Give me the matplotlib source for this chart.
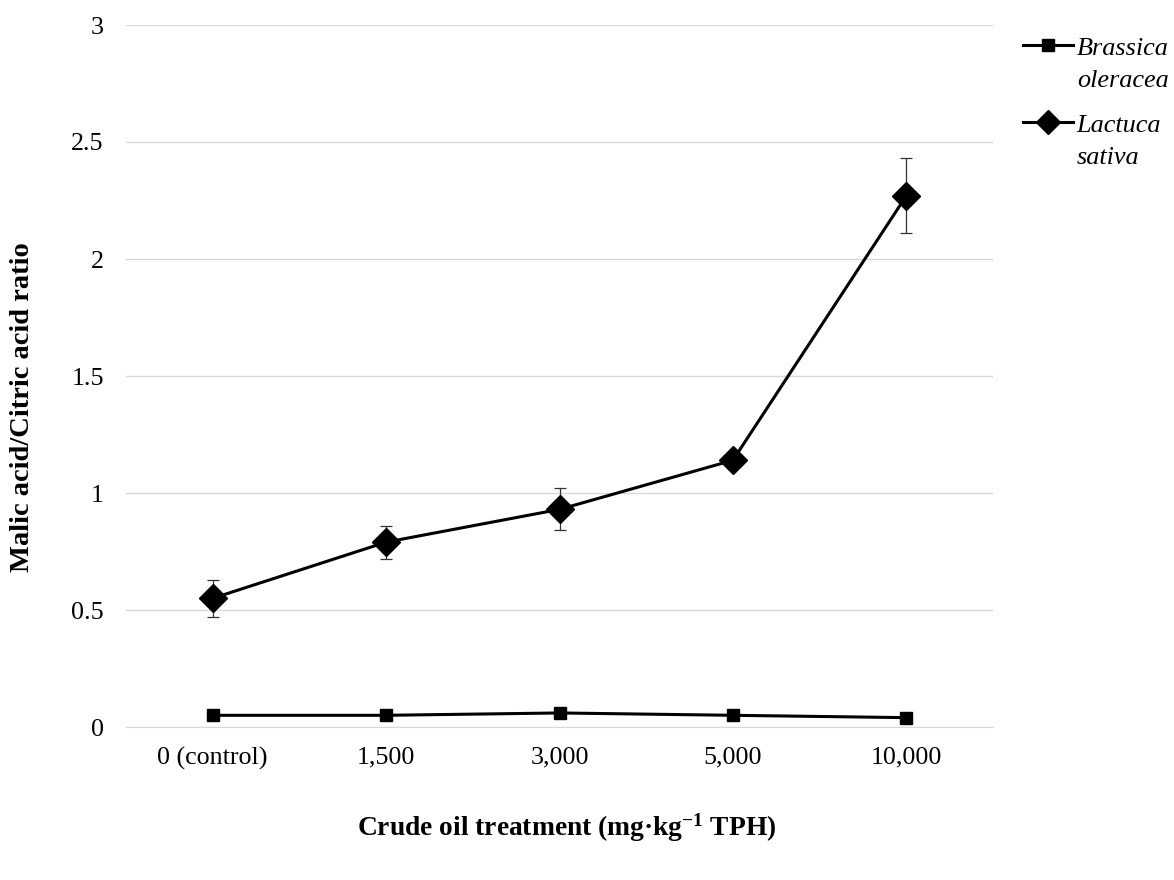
import matplotlib
matplotlib.use("Agg")
import matplotlib.pyplot as plt
from matplotlib.lines import Line2D

categories = ["0 (control)", "1,500", "3,000", "5,000", "10,000"]
brassica = [0.05, 0.05, 0.06, 0.05, 0.04]
lactuca = [0.55, 0.79, 0.93, 1.14, 2.27]
lactuca_err = [0.08, 0.07, 0.09, 0.01, 0.16]
yticks = [0, 0.5, 1, 1.5, 2, 2.5, 3]
ytick_labels = ["0", "0.5", "1", "1.5", "2", "2.5", "3"]

plt.rcParams['font.family'] = ['Liberation Serif', 'DejaVu Serif']
plt.rcParams['mathtext.fontset'] = 'custom'
plt.rcParams['mathtext.rm'] = 'Liberation Serif'
plt.rcParams['mathtext.bf'] = 'Liberation Serif:bold'
plt.rcParams['mathtext.it'] = 'Liberation Serif:italic'

fig = plt.figure(figsize=(11.74, 8.8), dpi=100)
ax = fig.add_axes([126/1174, 1-727/880, (993-126)/1174, (727-25)/880])

x = list(range(len(categories)))
ax.errorbar(x, lactuca, yerr=lactuca_err, fmt='none', ecolor='#333333',
            elinewidth=0.9, capsize=4.3, capthick=0.9, zorder=2)
ax.plot(x, lactuca, color='black', lw=2.2, marker='D', ms=14, zorder=3)
ax.plot(x, brassica, color='black', lw=2.2, marker='s', ms=8.5, zorder=3)

ax.set_xlim(-0.5, len(categories) - 0.5)
ax.set_ylim(0, 3)
ax.set_xticks(x)
ax.set_xticklabels(categories, fontsize=18.7)
ax.set_yticks(yticks)
ax.set_yticklabels(ytick_labels, fontsize=18.7)
ax.tick_params(axis='both', length=0)
ax.tick_params(axis='x', pad=14)
ax.tick_params(axis='y', pad=16)
ax.grid(axis='y', color='#d9d9d9', lw=1)
ax.set_axisbelow(True)
for s in ax.spines.values():
    s.set_visible(False)
ax.spines['bottom'].set_visible(True)
ax.spines['bottom'].set_color('#d9d9d9')

fig.text(23/1174, 1-407/880, "Malic acid/Citric acid ratio", rotation=90,
         fontsize=20.5, fontweight='bold', ha='center', va='center')
fig.text(567/1174, 1-828/880, r"Crude oil treatment (mg·kg$^{\mathbf{-1}}$ TPH)",
         fontsize=19.8, fontweight='bold', ha='center', va='center')

# legend: handles aligned with first line of each label
handles = [Line2D([], [], color='black', lw=2.2, marker='s', ms=8.5),
           Line2D([], [], color='black', lw=2.2, marker='D', ms=12)]
first_lines = ["Brassica", "Lactuca"]
second_lines = ["oleracea", "sativa"]
row_y = [48, 125]
for h, l1, l2, yy in zip(handles, first_lines, second_lines, row_y):
    fig.legend([h], [l1], loc='center left',
               bbox_to_anchor=(1023/1174, 1-yy/880), frameon=False,
               prop={'style': 'italic', 'size': 18.9}, handlelength=1.9,
               handletextpad=0.15, borderaxespad=0, borderpad=0)
    fig.text(1077/1174, 1-(yy+33)/880, l2, fontsize=18.9, style='italic',
             ha='left', va='center')

fig.savefig("out.png", dpi=100)
